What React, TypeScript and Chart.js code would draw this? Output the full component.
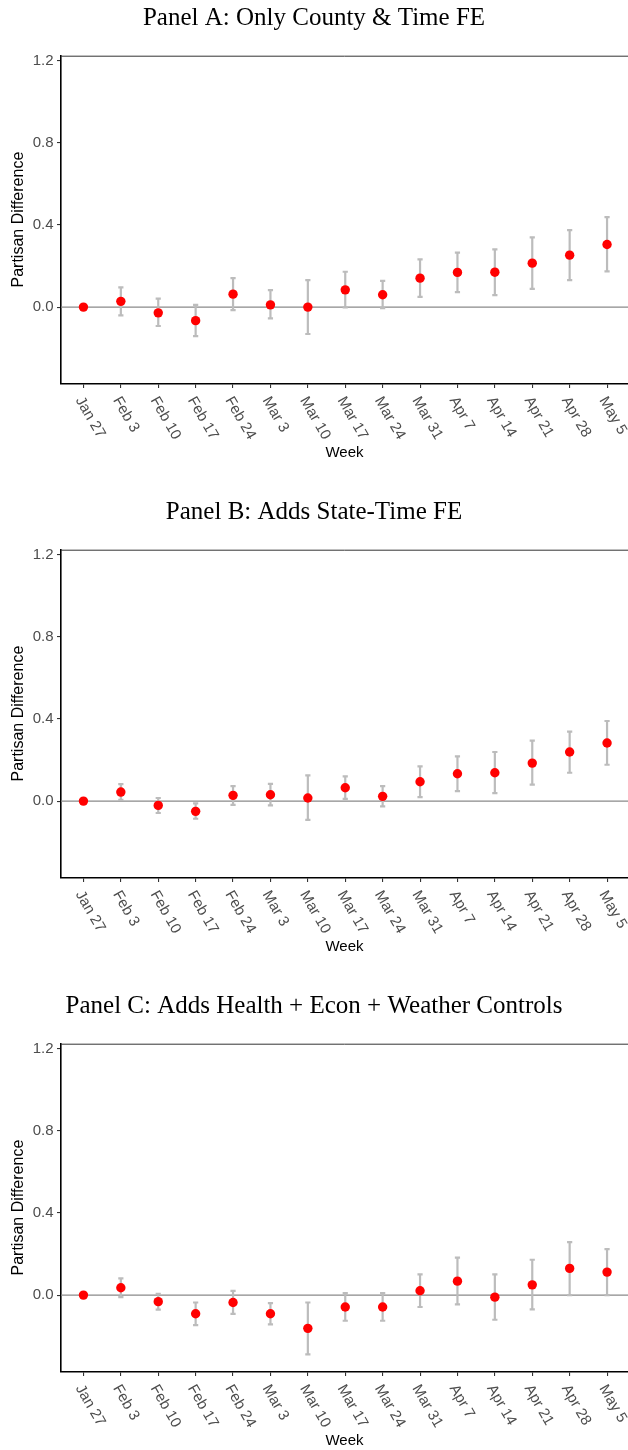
import React, { useEffect, useRef } from "react";
import { Chart, registerables } from "chart.js";

Chart.register(...registerables);

const WEEKS = [
  "Jan 27", "Feb 3", "Feb 10", "Feb 17", "Feb 24", "Mar 3", "Mar 10", "Mar 17",
  "Mar 24", "Mar 31", "Apr 7", "Apr 14", "Apr 21", "Apr 28", "May 5",
];
const Y_TICKS = [0, 0.4, 0.8, 1.2];

const TITLE_A = "Panel A: Only County & Time FE";
const EST_A = [0, 0.028, -0.028, -0.066, 0.063, 0.011, 0.0, 0.084, 0.06, 0.141, 0.169, 0.17, 0.214, 0.253, 0.305];
const LO_A = [0, -0.04, -0.092, -0.141, -0.015, -0.055, -0.131, -0.002, -0.005, 0.05, 0.073, 0.058, 0.089, 0.131, 0.174];
const HI_A = [0, 0.096, 0.041, 0.011, 0.141, 0.083, 0.131, 0.172, 0.128, 0.232, 0.265, 0.281, 0.339, 0.375, 0.438];

const TITLE_B = "Panel B: Adds State-Time FE";
const EST_B = [0, 0.044, -0.021, -0.05, 0.028, 0.031, 0.015, 0.065, 0.023, 0.094, 0.133, 0.138, 0.185, 0.239, 0.283];
const LO_B = [0, 0.006, -0.058, -0.086, -0.018, -0.021, -0.091, 0.011, -0.026, 0.019, 0.049, 0.039, 0.08, 0.138, 0.177];
const HI_B = [0, 0.083, 0.015, -0.011, 0.073, 0.084, 0.125, 0.12, 0.073, 0.169, 0.218, 0.239, 0.294, 0.338, 0.39];

const TITLE_C = "Panel C: Adds Health + Econ + Weather Controls";
const EST_C = [0, 0.036, -0.032, -0.091, -0.036, -0.091, -0.162, -0.058, -0.058, 0.021, 0.068, -0.01, 0.05, 0.13, 0.112];
const LO_C = [0, -0.01, -0.071, -0.146, -0.091, -0.143, -0.289, -0.125, -0.125, -0.058, -0.045, -0.12, -0.07, 0.0, 0.0];
const HI_C = [0, 0.081, 0.006, -0.036, 0.021, -0.039, -0.036, 0.01, 0.01, 0.101, 0.182, 0.101, 0.172, 0.258, 0.224];

const SANS = '"Liberation Sans", Arial, sans-serif';
const SERIF = '"Liberation Serif", "Times New Roman", serif';
const W = 628;
const PLOT_BOTTOM = 383.5;

type PanelProps = { title: string; est: number[]; lo: number[]; hi: number[]; height: number };

function Panel({ title, est, lo, hi, height }: PanelProps) {
  const ref = useRef<HTMLCanvasElement | null>(null);
  useEffect(() => {
    if (!ref.current) return;
    const extras = {
      id: "extras",
      beforeDatasetsDraw(chart: any) {
        const { ctx, chartArea } = chart;
        const xs = chart.scales.x;
        const ys = chart.scales.y;
        ctx.save();
        // top panel border
        ctx.strokeStyle = "#333333";
        ctx.lineWidth = 1;
        ctx.beginPath();
        ctx.moveTo(chartArea.left, chartArea.top + 0.5);
        ctx.lineTo(chartArea.right, chartArea.top + 0.5);
        ctx.stroke();
        // zero reference line
        const y0 = ys.getPixelForValue(0);
        ctx.strokeStyle = "#8a8a8a";
        ctx.lineWidth = 1.4;
        ctx.beginPath();
        ctx.moveTo(chartArea.left, y0);
        ctx.lineTo(chartArea.right, y0);
        ctx.stroke();
        // error bars
        ctx.strokeStyle = "#bcbcbc";
        ctx.lineWidth = 2.2;
        for (let i = 0; i < est.length; i++) {
          if (lo[i] === hi[i]) continue;
          const x = xs.getPixelForValue(i);
          const yl = ys.getPixelForValue(lo[i]);
          const yh = ys.getPixelForValue(hi[i]);
          ctx.beginPath();
          ctx.moveTo(x, yl);
          ctx.lineTo(x, yh);
          ctx.moveTo(x - 2.6, yl);
          ctx.lineTo(x + 2.6, yl);
          ctx.moveTo(x - 2.6, yh);
          ctx.lineTo(x + 2.6, yh);
          ctx.stroke();
        }
        ctx.restore();
      },
      afterDraw(chart: any) {
        const { ctx, chartArea } = chart;
        const xs = chart.scales.x;
        ctx.save();
        ctx.font = `15px ${SANS}`;
        ctx.fillStyle = "#4d4d4d";
        ctx.textAlign = "left";
        ctx.textBaseline = "middle";
        xs.ticks.forEach((t: any) => {
          const x = xs.getPixelForValue(t.value);
          ctx.save();
          ctx.translate(x - 4.5, chartArea.bottom + 14.5);
          ctx.rotate(Math.PI / 3);
          ctx.fillText(WEEKS[t.value], 0, 0);
          ctx.restore();
        });
        ctx.restore();
      },
    };

    const chart = new Chart(ref.current, {
      type: "scatter",
      data: {
        datasets: [
          {
            data: est.map((v, i) => ({ x: i, y: v })),
            backgroundColor: "#ff0000",
            borderColor: "#ff0000",
            borderWidth: 0,
            pointRadius: 4.7,
            pointHoverRadius: 4.7,
          },
        ],
      },
      options: {
        animation: false,
        responsive: false,
        devicePixelRatio: 1,
        layout: { padding: 0, autoPadding: false },
        events: [],
        plugins: {
          legend: { display: false },
          tooltip: { enabled: false },
          title: {
            display: true,
            text: title,
            color: "#000000",
            font: { family: SERIF, size: 25, weight: "normal", lineHeight: 1.2 },
            padding: { top: 3.1, bottom: 22.6 },
          },
        },
        scales: {
          x: {
            type: "linear",
            min: -0.6,
            max: 14.56,
            afterBuildTicks: (s: any) => {
              s.ticks = WEEKS.map((_, i) => ({ value: i }));
            },
            afterFit: (s: any) => {
              s.height = height - PLOT_BOTTOM;
            },
            ticks: { display: false },
            grid: { display: true, drawOnChartArea: false, drawTicks: true, tickLength: 4.5, color: "#333333", lineWidth: 1.1 },
            border: { display: true, color: "#000000", width: 1.6 },
            title: {
              display: true,
              text: "Week",
              color: "#000000",
              font: { family: SANS, size: 15, lineHeight: 1.2 },
              padding: { top: 0, bottom: height - PLOT_BOTTOM - 69.5 - 9 },
            },
          },
          y: {
            type: "linear",
            min: -0.372,
            max: 1.224,
            afterBuildTicks: (s: any) => {
              s.ticks = Y_TICKS.map((v) => ({ value: v }));
            },
            afterFit: (s: any) => {
              s.width = 61;
            },
            ticks: {
              callback: (v: any) => Number(v).toFixed(1),
              color: "#4d4d4d",
              font: { family: SANS, size: 15 },
              padding: 3.5,
            },
            grid: { display: true, drawOnChartArea: false, drawTicks: true, tickLength: 4, color: "#333333", lineWidth: 1.1 },
            border: { display: true, color: "#000000", width: 1.6 },
            title: {
              display: true,
              text: "Partisan Difference",
              color: "#000000",
              font: { family: SANS, size: 16, lineHeight: 1.2 },
              padding: { top: 9.2, bottom: 0 },
            },
          },
        },
      } as any,
      plugins: [extras],
    });
    return () => chart.destroy();
  }, [title, est, lo, hi, height]);

  return (
    <canvas
      ref={ref}
      width={W}
      height={height}
      style={{ display: "block", width: W, height }}
    />
  );
}

export default function App() {
  return (
    <div
      style={{
        position: "absolute",
        left: 0,
        top: 0,
        width: W,
        height: 1450,
        overflow: "hidden",
        background: "#ffffff",
      }}
    >
      <Panel title={TITLE_A} est={EST_A} lo={LO_A} hi={HI_A} height={494} />
      <Panel title={TITLE_B} est={EST_B} lo={LO_B} hi={HI_B} height={494} />
      <Panel title={TITLE_C} est={EST_C} lo={LO_C} hi={HI_C} height={462} />
    </div>
  );
}
